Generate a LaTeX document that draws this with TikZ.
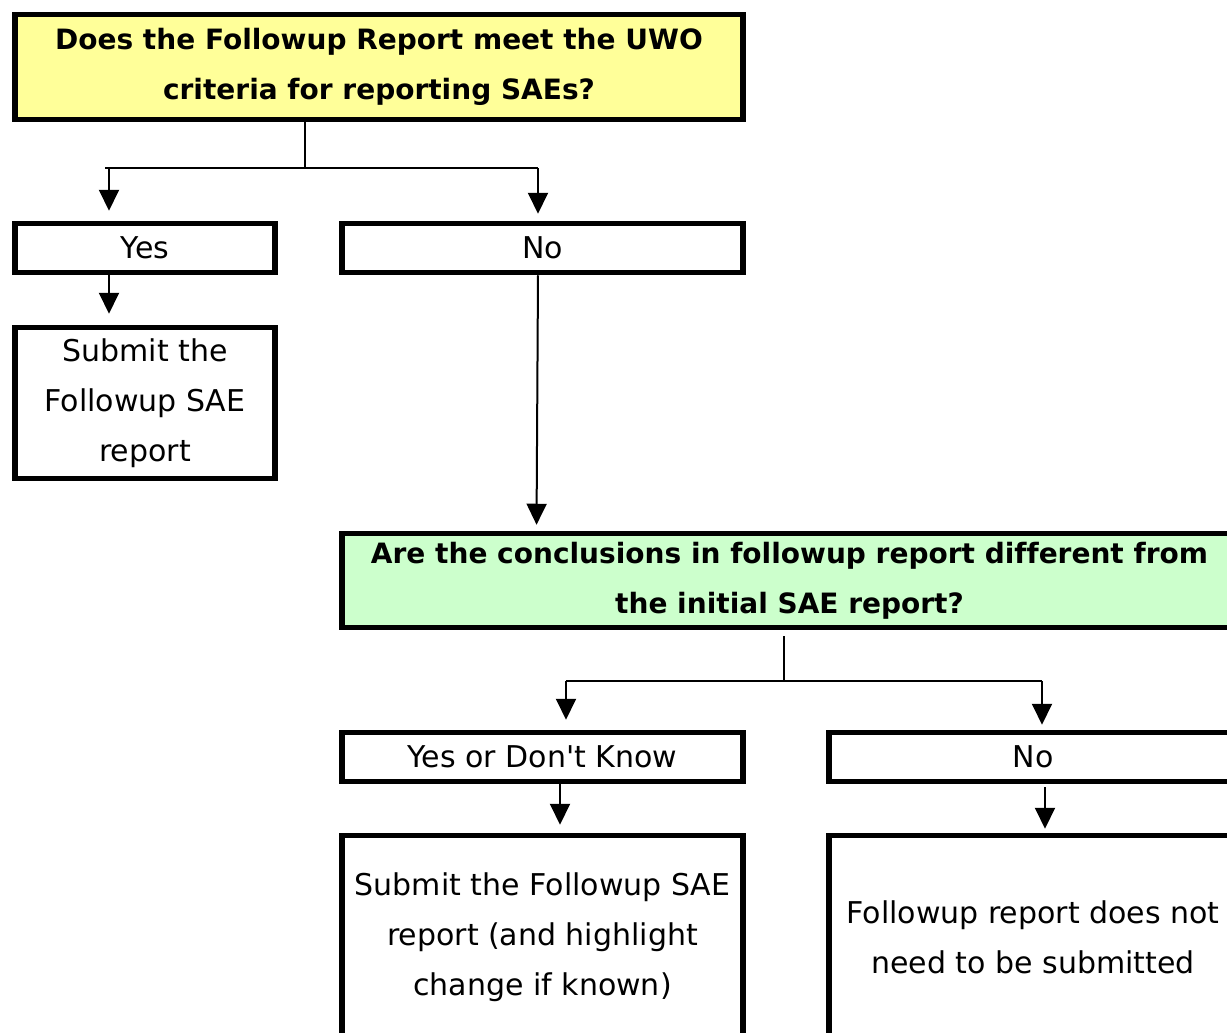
\documentclass[tikz,border=0pt]{standalone}
\usepackage{fontspec}
\setmainfont{DejaVu Sans}[Ligatures={TeXOff,NoCommon}]
\usetikzlibrary{arrows.meta}
\definecolor{askyellow}{HTML}{FFFF99}
\definecolor{askgreen}{HTML}{CCFFCC}
\tikzset{
    box/.style={draw, line width=5.5pt, inner sep=0pt, align=center,
        font=\fontsize{30}{50}\selectfont},
    ask/.style={box, font=\bfseries\fontsize{28}{50}\selectfont},
    link/.style={line width=2pt},
    arrow/.style={link, -{Triangle[width=20pt,length=21pt]}},
}
\begin{document}
\begin{tikzpicture}[x=1pt,y=-1pt]
            \useasboundingbox (0,0) rectangle (1227,1033);
            \clip (0,0) rectangle (1227,1033);
            \node [ask, fill=askyellow, minimum width=728pt, minimum height=105pt] (n1) at (379,67) {Does the Followup Report meet the UWO\\criteria for reporting SAEs?};
            \node [box, minimum width=260pt, minimum height=49pt] (n2) at (145,248) {Yes};
            \node [box, minimum width=401pt, minimum height=49pt] (n3) at (542.5,248) {No};
            \node [box, minimum width=260pt, minimum height=151pt] (n4) at (145,403) {Submit the\\Followup SAE\\report};
            \node [ask, fill=askgreen, minimum width=895pt, minimum height=94pt] (n5) at (789.5,580.5) {Are the conclusions in followup report different from\\the initial SAE report?};
            \node [box, minimum width=401pt, minimum height=49pt] (n6) at (542.5,757) {Yes or Don't Know};
            \node [box, minimum width=408pt, minimum height=49pt] (n7) at (1033,757) {No};
            \node [box, minimum width=401pt, minimum height=203pt] (n8) at (542.5,937) {Submit the Followup SAE\\report (and highlight\\change if known)};
            \node [box, minimum width=408pt, minimum height=203pt] (n9) at (1033,937) {Followup report does not\\need to be submitted};
            \coordinate (j1) at (305,168);
            \coordinate (j1l) at (109,168);
            \coordinate (j1r) at (538,168);
            \coordinate (j2) at (784,681);
            \coordinate (j2l) at (566,681);
            \coordinate (j2r) at (1042,681);
            \draw[link] (j1 |- n1.south) -- (j1);
            \draw[link] ([xshift=-4pt]j1l) -- (j1r);
            \draw[arrow, shorten >=10pt] (j1l) -- (j1l |- n2.north);
            \draw[arrow, shorten >=7pt] (j1r) -- (j1r |- n3.north);
            \draw[arrow, shorten >=11pt] (j1l |- n2.south) -- (j1l |- n4.north);
            \draw[arrow, shorten >=6pt] (j1r |- n3.south) -- ([xshift=-253pt]n5.north);
            \draw[link, shorten <=6pt] (j2 |- n5.south) -- (j2);
            \draw[link] (j2l) -- (j2r);
            \draw[arrow, shorten >=10pt] (j2l) -- (j2l |- n6.north);
            \draw[arrow, shorten >=5pt] (j2r) -- (j2r |- n7.north);
            \draw[arrow, shorten >=8pt] ([xshift=17.5pt]n6.south) -- ([xshift=17.5pt]n8.north);
            \draw[arrow, shorten <=3pt, shorten >=4pt] ([xshift=12pt]n7.south) -- ([xshift=12pt]n9.north);
        \end{tikzpicture}
\end{document}
